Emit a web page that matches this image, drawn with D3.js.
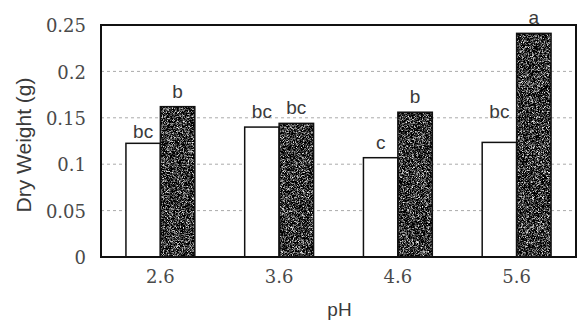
<!DOCTYPE html>
<html>
<head>
<meta charset="utf-8">
<script src="https://cdn.jsdelivr.net/npm/d3@7"></script>
<style>
  body { margin: 0; background: #fff; }
  .tick-serif { font-family: "DejaVu Serif", serif; font-size: 18px; fill: #4a4a4a; }
  .sans { font-family: "Liberation Sans", Arial, sans-serif; fill: #3a3a3a; }
</style>
</head>
<body>
<div id="chart"></div>
<script>
// data
var phLevels = ["2.6", "3.6", "4.6", "5.6"];
var seriesNames = ["control", "treated"];
var controlWeight = [0.1225, 0.140, 0.107, 0.1235];
var treatedWeight = [0.162, 0.144, 0.156, 0.241];
var controlLetters = ["bc", "bc", "c", "bc"];
var treatedLetters = ["b", "bc", "b", "a"];
var yTicks = [0, 0.05, 0.1, 0.15, 0.2, 0.25];

var width = 580,
    height = 325,
    margin = {top: 25, right: 4, bottom: 68, left: 101};

var svg = d3.select("#chart").append("svg").attr("width", width).attr("height", height);

// speckled texture for the dark bars, like the scanned print
var defs = svg.append("defs");
var f = defs.append("filter").attr("id", "speckle")
    .attr("x", 0).attr("y", 0).attr("width", 1).attr("height", 1)
    .attr("color-interpolation-filters", "sRGB");
f.append("feTurbulence").attr("type", "fractalNoise").attr("baseFrequency", 1.8)
    .attr("numOctaves", 1).attr("seed", 3).attr("result", "noise");
f.append("feColorMatrix").attr("in", "noise").attr("type", "matrix")
    .attr("values", "2.8 0 0 0 -1.2  2.8 0 0 0 -1.2  2.8 0 0 0 -1.2  0 0 0 0 1")
    .attr("result", "grey");
f.append("feComposite").attr("in", "grey").attr("in2", "SourceGraphic").attr("operator", "in");

var g = svg.append("g").attr("transform", "translate(" + margin.left + "," + margin.top + ")");

var w = width - margin.left - margin.right,
    h = height - margin.top - margin.bottom;

var x0 = d3.scaleBand().domain(phLevels).range([0, w]).paddingInner(0.42).paddingOuter(0.21);
var x1 = d3.scaleBand().domain(seriesNames).range([0, x0.bandwidth()]);
var y = d3.scaleLinear().domain([0, 0.25]).range([h, 0]);

// dotted gridlines
g.selectAll(".grid").data(yTicks.slice(1, -1)).enter().append("line")
    .attr("x1", 0).attr("x2", w)
    .attr("y1", function(d) { return y(d); }).attr("y2", function(d) { return y(d); })
    .attr("stroke", "#aaa").attr("stroke-width", 1).attr("stroke-dasharray", "3,3");

// build rows for each bar
var rows = [];
phLevels.forEach(function(p, i) {
    rows.push({ph: p, s: "control", v: controlWeight[i], lab: controlLetters[i]});
    rows.push({ph: p, s: "treated", v: treatedWeight[i], lab: treatedLetters[i]});
});

var bx = function(d) { return x0(d.ph) + x1(d.s); };

// textured fill for treated bars
g.selectAll(".fillbar").data(rows).enter().append("rect")
    .attr("x", bx).attr("y", function(d) { return y(d.v); })
    .attr("width", x1.bandwidth())
    .attr("height", function(d) { return h - y(d.v); })
    .attr("fill", function(d) { return d.s == "control" ? "#fff" : "#333"; })
    .attr("filter", function(d) { return d.s == "control" ? null : "url(#speckle)"; });

// outlines
g.selectAll(".bar").data(rows).enter().append("rect")
    .attr("x", bx).attr("y", function(d) { return y(d.v); })
    .attr("width", x1.bandwidth())
    .attr("height", function(d) { return h - y(d.v); })
    .attr("fill", "none")
    .attr("stroke", "#111").attr("stroke-width", 1.5);

// significance letters (a few nudged like in the original)
var nudge = {"5.6control": -15, "2.6control": 4};
g.selectAll(".lab").data(rows).enter().append("text")
    .attr("class", "sans")
    .attr("x", function(d) { return bx(d) + x1.bandwidth() / 2; })
    .attr("y", function(d) { return y(d.v) - 9 + (nudge[d.ph + d.s] || 0); })
    .attr("text-anchor", "middle").style("font-size", "19px")
    .text(function(d) { return d.lab; });

// frame
g.append("rect").attr("x", 0).attr("y", 0).attr("width", w).attr("height", h)
    .attr("fill", "none").attr("stroke", "#111").attr("stroke-width", 2);

// y tick labels
g.selectAll(".ytick").data(yTicks).enter().append("text")
    .attr("class", "tick-serif")
    .attr("x", -15).attr("y", function(d) { return y(d); }).attr("dy", "0.4em")
    .attr("text-anchor", "end")
    .text(function(d) { return d; });

// x tick labels
g.selectAll(".xtick").data(phLevels).enter().append("text")
    .attr("class", "tick-serif")
    .attr("x", function(d) { return x0(d) + x0.bandwidth() / 2; })
    .attr("y", h + 26)
    .attr("text-anchor", "middle")
    .text(function(d) { return d; });

// axis titles
svg.append("text").attr("class", "sans")
    .attr("transform", "translate(31," + (margin.top + h / 2 + 4) + ") rotate(-90)")
    .attr("text-anchor", "middle").style("font-size", "21px")
    .text("Dry Weight (g)");

svg.append("text").attr("class", "sans")
    .attr("x", margin.left + w / 2 + 1).attr("y", 316)
    .attr("text-anchor", "middle").style("font-size", "19px")
    .text("pH");
</script>
</body>
</html>
